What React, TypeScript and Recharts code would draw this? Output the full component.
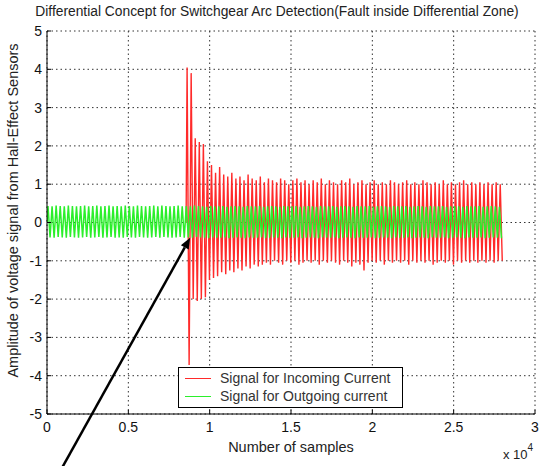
import { LineChart, Line, XAxis, YAxis, CartesianGrid, Legend, ReferenceLine, Label } from 'recharts'

const xTicks = [0, 5000, 10000, 15000, 20000, 25000, 30000]
const yTicks = [-5, -4, -3, -2, -1, 0, 1, 2, 3, 4, 5]

// samples per oscillation cycle, and where each signal begins
const CYCLE = 250
const GREEN_START = 0
const RED_START = 8550

// per-cycle peak / trough (incoming current, red)
const redPeaks = [
  4.05, 3.9, 2.2, 2.1, 2.05, 1.6, 1.5, 1.3, 1.45, 1.25,
  1.2, 1.3, 1.15, 1.2, 1.1, 1.25, 1.15, 1.1, 1.2, 1.05,
  1.15, 1.1, 1.05, 1.15, 1.1, 1.0, 1.1, 1.15, 1.05, 1.1,
  1.0, 1.1, 1.05, 1.15, 1.0, 1.1, 1.05, 1.0, 1.1, 1.05,
  1.15, 1.0, 1.05, 1.1, 1.0, 1.05, 1.1, 1.0, 1.05, 1.0,
  1.1, 1.05, 1.0, 1.05, 1.1, 1.0, 1.05, 1.0, 1.1, 1.05,
  1.0, 1.05, 1.0, 1.1, 1.0, 1.05, 1.0, 1.05, 1.1, 1.0,
  1.05, 1.0, 1.05, 1.0, 1.05, 1.0, 1.05, 1.0,
]
const redTroughs = [
  -3.72, -2.0, -2.05, -2.0, -1.95, -1.5, -1.45, -1.4, -1.3, -1.35,
  -1.25, -1.3, -1.2, -1.25, -1.15, -1.2, -1.1, -1.15, -1.1, -1.05,
  -1.1, -1.0, -1.05, -1.1, -1.0, -1.05, -1.0, -1.1, -1.05, -1.0,
  -1.05, -1.0, -1.1, -1.0, -1.05, -1.0, -1.05, -1.1, -1.0, -1.05,
  -1.15, -1.05, -1.1, -1.25, -1.05, -1.0, -1.05, -1.0, -1.1, -1.0,
  -1.05, -1.0, -1.05, -1.0, -1.1, -1.0, -1.05, -1.0, -1.05, -1.0,
  -1.1, -1.05, -1.0, -1.05, -1.0, -1.1, -1.0, -1.05, -1.0, -1.05,
  -1.0, -1.05, -1.0, -1.05, -1.0, -1.05, -1.0, -1.0,
]

// outgoing current (green)
const greenPeaks = [
  0.43, 0.42, 0.44, 0.43, 0.42, 0.44, 0.43, 0.42, 0.43, 0.44, 0.42, 0.43, 0.44, 0.42,
  0.43, 0.44, 0.42, 0.43, 0.42, 0.44, 0.43, 0.42, 0.44, 0.43, 0.42, 0.43, 0.44, 0.42,
  0.44, 0.43, 0.42, 0.43, 0.44, 0.42, 0.43, 0.42, 0.44, 0.43, 0.42, 0.41, 0.43, 0.42,
  0.42, 0.43, 0.41, 0.42, 0.43, 0.42, 0.41, 0.43, 0.42, 0.42, 0.43, 0.41, 0.42, 0.43,
  0.42, 0.41, 0.43, 0.42, 0.42, 0.43, 0.41, 0.42, 0.43, 0.42, 0.41, 0.43, 0.42, 0.42,
  0.43, 0.41, 0.42, 0.43, 0.42, 0.41, 0.43, 0.42, 0.42, 0.43, 0.41, 0.42, 0.43, 0.42,
  0.41, 0.43, 0.42, 0.42, 0.43, 0.41, 0.42, 0.43, 0.42, 0.41, 0.43, 0.42, 0.42, 0.43,
  0.41, 0.42, 0.43, 0.42, 0.41, 0.43, 0.42, 0.42, 0.43, 0.41, 0.42, 0.43, 0.42, 0.41,
]
const greenTroughs = [
  -0.39, -0.4, -0.38, -0.39, -0.4, -0.38, -0.39, -0.4, -0.39, -0.38, -0.4, -0.39, -0.38, -0.4,
  -0.39, -0.38, -0.4, -0.39, -0.4, -0.38, -0.39, -0.4, -0.38, -0.39, -0.4, -0.39, -0.38, -0.4,
  -0.38, -0.39, -0.4, -0.39, -0.38, -0.4, -0.39, -0.4, -0.38, -0.39, -0.4, -0.41, -0.39, -0.4,
  -0.4, -0.39, -0.41, -0.4, -0.39, -0.4, -0.41, -0.39, -0.4, -0.4, -0.39, -0.41, -0.4, -0.39,
  -0.4, -0.41, -0.39, -0.4, -0.4, -0.39, -0.41, -0.4, -0.39, -0.4, -0.41, -0.39, -0.4, -0.4,
  -0.39, -0.41, -0.4, -0.39, -0.4, -0.41, -0.39, -0.4, -0.4, -0.39, -0.41, -0.4, -0.39, -0.4,
  -0.41, -0.39, -0.4, -0.4, -0.39, -0.41, -0.4, -0.39, -0.4, -0.41, -0.39, -0.4, -0.4, -0.39,
  -0.41, -0.4, -0.39, -0.4, -0.41, -0.39, -0.4, -0.4, -0.39, -0.41, -0.4, -0.39, -0.4, -0.41,
]

// arrow pointing at the fault onset
const arrowTip = { x: 8800, y: -0.4 }
const arrowTail = { x: 800, y: -6.5 }

function buildWave(start: number, peaks: number[], troughs: number[]) {
  const pts = [{ x: start, y: 0 }]
  peaks.forEach((p, i) => {
    pts.push({ x: start + i * CYCLE + CYCLE / 4, y: p })
    pts.push({ x: start + i * CYCLE + (3 * CYCLE) / 4, y: troughs[i] })
  })
  return pts
}

const redData = buildWave(RED_START, redPeaks, redTroughs)
const greenData = buildWave(GREEN_START, greenPeaks, greenTroughs)

const font = '"Liberation Sans", Arial, sans-serif'
const tickStyle = { fontSize: 14, fill: '#111', fontFamily: font }
const labelStyle = { fontSize: 14.5, fill: '#222', fontFamily: font }

const Arrow = (props: any) => {
  const { x1, y1, x2, y2 } = props
  const dx = x1 - x2
  const dy = y1 - y2
  const len = Math.sqrt(dx * dx + dy * dy)
  const ux = dx / len
  const uy = dy / len
  const hl = 11
  const hw = 4.5
  const bx = x1 - ux * hl
  const by = y1 - uy * hl
  const pts = `${x1},${y1} ${bx - uy * hw},${by + ux * hw} ${bx + uy * hw},${by - ux * hw}`
  return (
    <g>
      <line x1={x2} y1={y2} x2={bx} y2={by} stroke="#000" strokeWidth={2.5} />
      <polygon points={pts} fill="#000" />
    </g>
  )
}

const LegendBox = ({ payload }: any) => (
  <div
    style={{
      boxSizing: 'border-box',
      border: '1px solid #000',
      background: '#fff',
      padding: '1px 0 0 6px',
      fontFamily: font,
      fontSize: 14,
      color: '#333',
      width: 225,
      height: 41,
    }}
  >
    {(payload || []).map((p: any) => (
      <div key={p.value} style={{ display: 'flex', alignItems: 'center', height: 18, whiteSpace: 'nowrap' }}>
        <span style={{ display: 'inline-block', width: 26, height: 0, borderTop: `1.5px solid ${p.color}`, marginRight: 9 }} />
        <span>{p.value}</span>
      </div>
    ))}
  </div>
)

export default function App() {
  return (
    <div style={{ position: 'relative', width: 545, height: 466, background: '#fff' }}>
      <style>{'body { margin: 0; }'}</style>
      <LineChart width={545} height={466} margin={{ top: 31, right: 10, bottom: 12, left: 0 }}>
        <CartesianGrid stroke="#333" strokeDasharray="1.5 3" />
        <XAxis
          dataKey="x"
          type="number"
          domain={[0, 30000]}
          ticks={xTicks}
          tickFormatter={(v: number) => String(v / 10000)}
          tick={tickStyle}
          tickSize={-4}
          tickMargin={12}
          height={40}
          stroke="#000"
          allowDataOverflow
        >
          <Label value="Number of samples" position="insideBottom" offset={2} style={labelStyle} />
          <Label
            content={({ viewBox }: any) => (
              <text x={viewBox.x + viewBox.width - 32} y={viewBox.y + 45} fontSize={13} fill="#222" fontFamily={font}>
                x 10
                <tspan fontSize={10} dy={-8}>4</tspan>
              </text>
            )}
          />
        </XAxis>
        <XAxis
          xAxisId="top"
          orientation="top"
          type="number"
          domain={[0, 30000]}
          ticks={xTicks}
          tick={false}
          tickSize={-4}
          height={0}
          stroke="#000"
        />
        <YAxis
          type="number"
          domain={[-5, 5]}
          ticks={yTicks}
          tick={tickStyle}
          tickSize={-4}
          tickMargin={9}
          width={47}
          stroke="#000"
          allowDataOverflow
        >
          <Label
            content={({ viewBox }: any) => (
              <text
                x={viewBox.x + 18}
                y={viewBox.y + viewBox.height / 2 - 12}
                transform={`rotate(-90 ${viewBox.x + 18} ${viewBox.y + viewBox.height / 2 - 12})`}
                textAnchor="middle"
                fontSize={14.5}
                fill="#222"
                fontFamily={font}
              >
                Amplitude of voltage signal from Hall-Effect Sensors
              </text>
            )}
          />
        </YAxis>
        <YAxis
          yAxisId="right"
          orientation="right"
          type="number"
          domain={[-5, 5]}
          ticks={yTicks}
          tick={false}
          tickSize={-4}
          width={0}
          stroke="#000"
        />
        <Line
          data={redData}
          dataKey="y"
          name="Signal for Incoming Current"
          stroke="#ff2a2a"
          strokeWidth={1.4}
          dot={false}
          isAnimationActive={false}
        />
        <Line
          data={greenData}
          dataKey="y"
          name="Signal for Outgoing current"
          stroke="#2bef2b"
          strokeWidth={1.5}
          dot={false}
          isAnimationActive={false}
        />
        <ReferenceLine segment={[arrowTip, arrowTail]} ifOverflow="visible" shape={Arrow} />
        <Legend
          layout="vertical"
          align="center"
          verticalAlign="middle"
          content={LegendBox}
          wrapperStyle={{ left: 178, top: 367, width: 'auto' }}
        />
      </LineChart>
      <div
        style={{
          position: 'absolute',
          zIndex: 2,
          left: 277,
          top: 4,
          transform: 'translateX(-50%)',
          whiteSpace: 'nowrap',
          fontFamily: font,
          fontSize: 13.8,
          lineHeight: '16px',
          color: '#222',
        }}
      >
        Differential Concept for Switchgear Arc Detection(Fault inside Differential Zone)
      </div>
    </div>
  )
}
